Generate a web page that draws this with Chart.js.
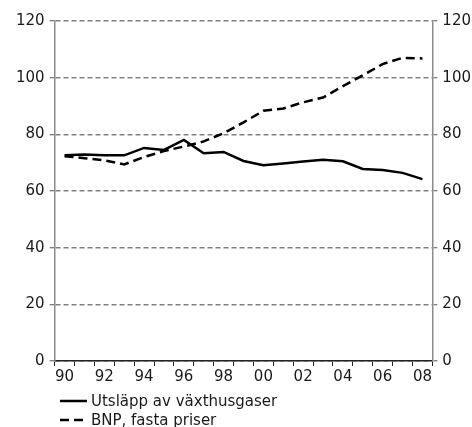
<!DOCTYPE html>
<html>
<head>
<meta charset="utf-8">
<script src="https://cdn.jsdelivr.net/npm/chart.js@4/dist/chart.umd.min.js"></script>
<style>
html, body { margin: 0; padding: 0; background: #fff; }
#wrap { position: relative; width: 472px; height: 427px; }
#legend { position: absolute; left: 60px; top: 391px; font: 15px "DejaVu Sans", Verdana, sans-serif; color: #1a1a1a; }
.item { display: flex; align-items: center; height: 19px; white-space: nowrap; }
.item svg { margin-right: 4px; }
</style>
</head>
<body>
<div id="wrap">
  <canvas id="myChart" width="472" height="427"></canvas>
  <div id="legend"></div>
</div>
<script>
/*====== data =======*/
const years = ['90','91','92','93','94','95','96','97','98','99','00','01','02','03','04','05','06','07','08'];
const utslapp = [72.6, 72.9, 72.6, 72.6, 75.2, 74.5, 78.0, 73.3, 73.8, 70.6, 69.1, 69.7, 70.4, 71.0, 70.5, 67.8, 67.4, 66.4, 64.2];
const bnp = [72.3, 71.6, 70.8, 69.4, 72.0, 74.1, 75.7, 77.5, 80.4, 84.2, 88.3, 89.1, 91.3, 93.0, 97.0, 100.8, 104.8, 107.0, 106.8];
const yTicks = [0, 20, 40, 60, 80, 100, 120];
const seriesNames = ['Utsläpp av växthusgaser', 'BNP, fasta priser'];

/*====== chart =======*/
Chart.defaults.font.family = '"DejaVu Sans", Verdana, sans-serif';
Chart.defaults.font.size = 15;
Chart.defaults.color = '#1a1a1a';

const yAxis = (pos, onArea) => ({
  position: pos,
  min: yTicks[0],
  max: yTicks[yTicks.length - 1],
  ticks: { stepSize: yTicks[1] - yTicks[0], padding: 5 },
  grid: {
    drawOnChartArea: onArea,
    color: '#808080',
    lineWidth: 1.5,
    tickLength: 5,
    tickColor: '#555',
    tickWidth: 1
  },
  border: { color: '#8c8c8c', width: 1.5, dash: [5, 3] }
});

const data = {
  labels: years,
  datasets: [{
    label: seriesNames[0],
    data: utslapp,
    borderColor: '#000',
    borderWidth: 2.5,
    pointRadius: 0,
    tension: 0,
    yAxisID: 'y'
  }, {
    label: seriesNames[1],
    data: bnp,
    borderColor: '#000',
    borderWidth: 2.5,
    borderDash: [9, 5],
    pointRadius: 0,
    tension: 0,
    yAxisID: 'y'
  }]
};

const config = {
  type: 'line',
  data: data,
  options: {
    responsive: false,
    animation: false,
    layout: { padding: { left: 11, right: -4, top: 21, bottom: 39 } },
    plugins: { legend: { display: false }, tooltip: { enabled: false } },
    scales: {
      x: {
        offset: true,
        ticks: {
          autoSkip: false,
          maxRotation: 0,
          padding: 2,
          callback: (v, i) => (i % 2 === 0 ? years[i] : '')
        },
        grid: { offset: true, drawOnChartArea: false, tickLength: 5, color: '#222', lineWidth: 1 },
        border: { color: '#222', width: 1.5 }
      },
      y: yAxis('left', true),
      y2: Object.assign(yAxis('right', false), { display: true })
    }
  }
};

const myChart = new Chart(document.getElementById('myChart'), config);

/*====== legend =======*/
const legend = document.getElementById('legend');
myChart.data.datasets.forEach(ds => {
  const dash = ds.borderDash ? ds.borderDash.join(',') : 'none';
  const row = document.createElement('div');
  row.className = 'item';
  row.innerHTML = '<svg width="27" height="4"><line x1="0" y1="2" x2="27" y2="2" stroke="#000" stroke-width="2.5" stroke-dasharray="' + dash + '"/></svg>' +
    '<span>' + ds.label + '</span>';
  legend.appendChild(row);
});
</script>
</body>
</html>
